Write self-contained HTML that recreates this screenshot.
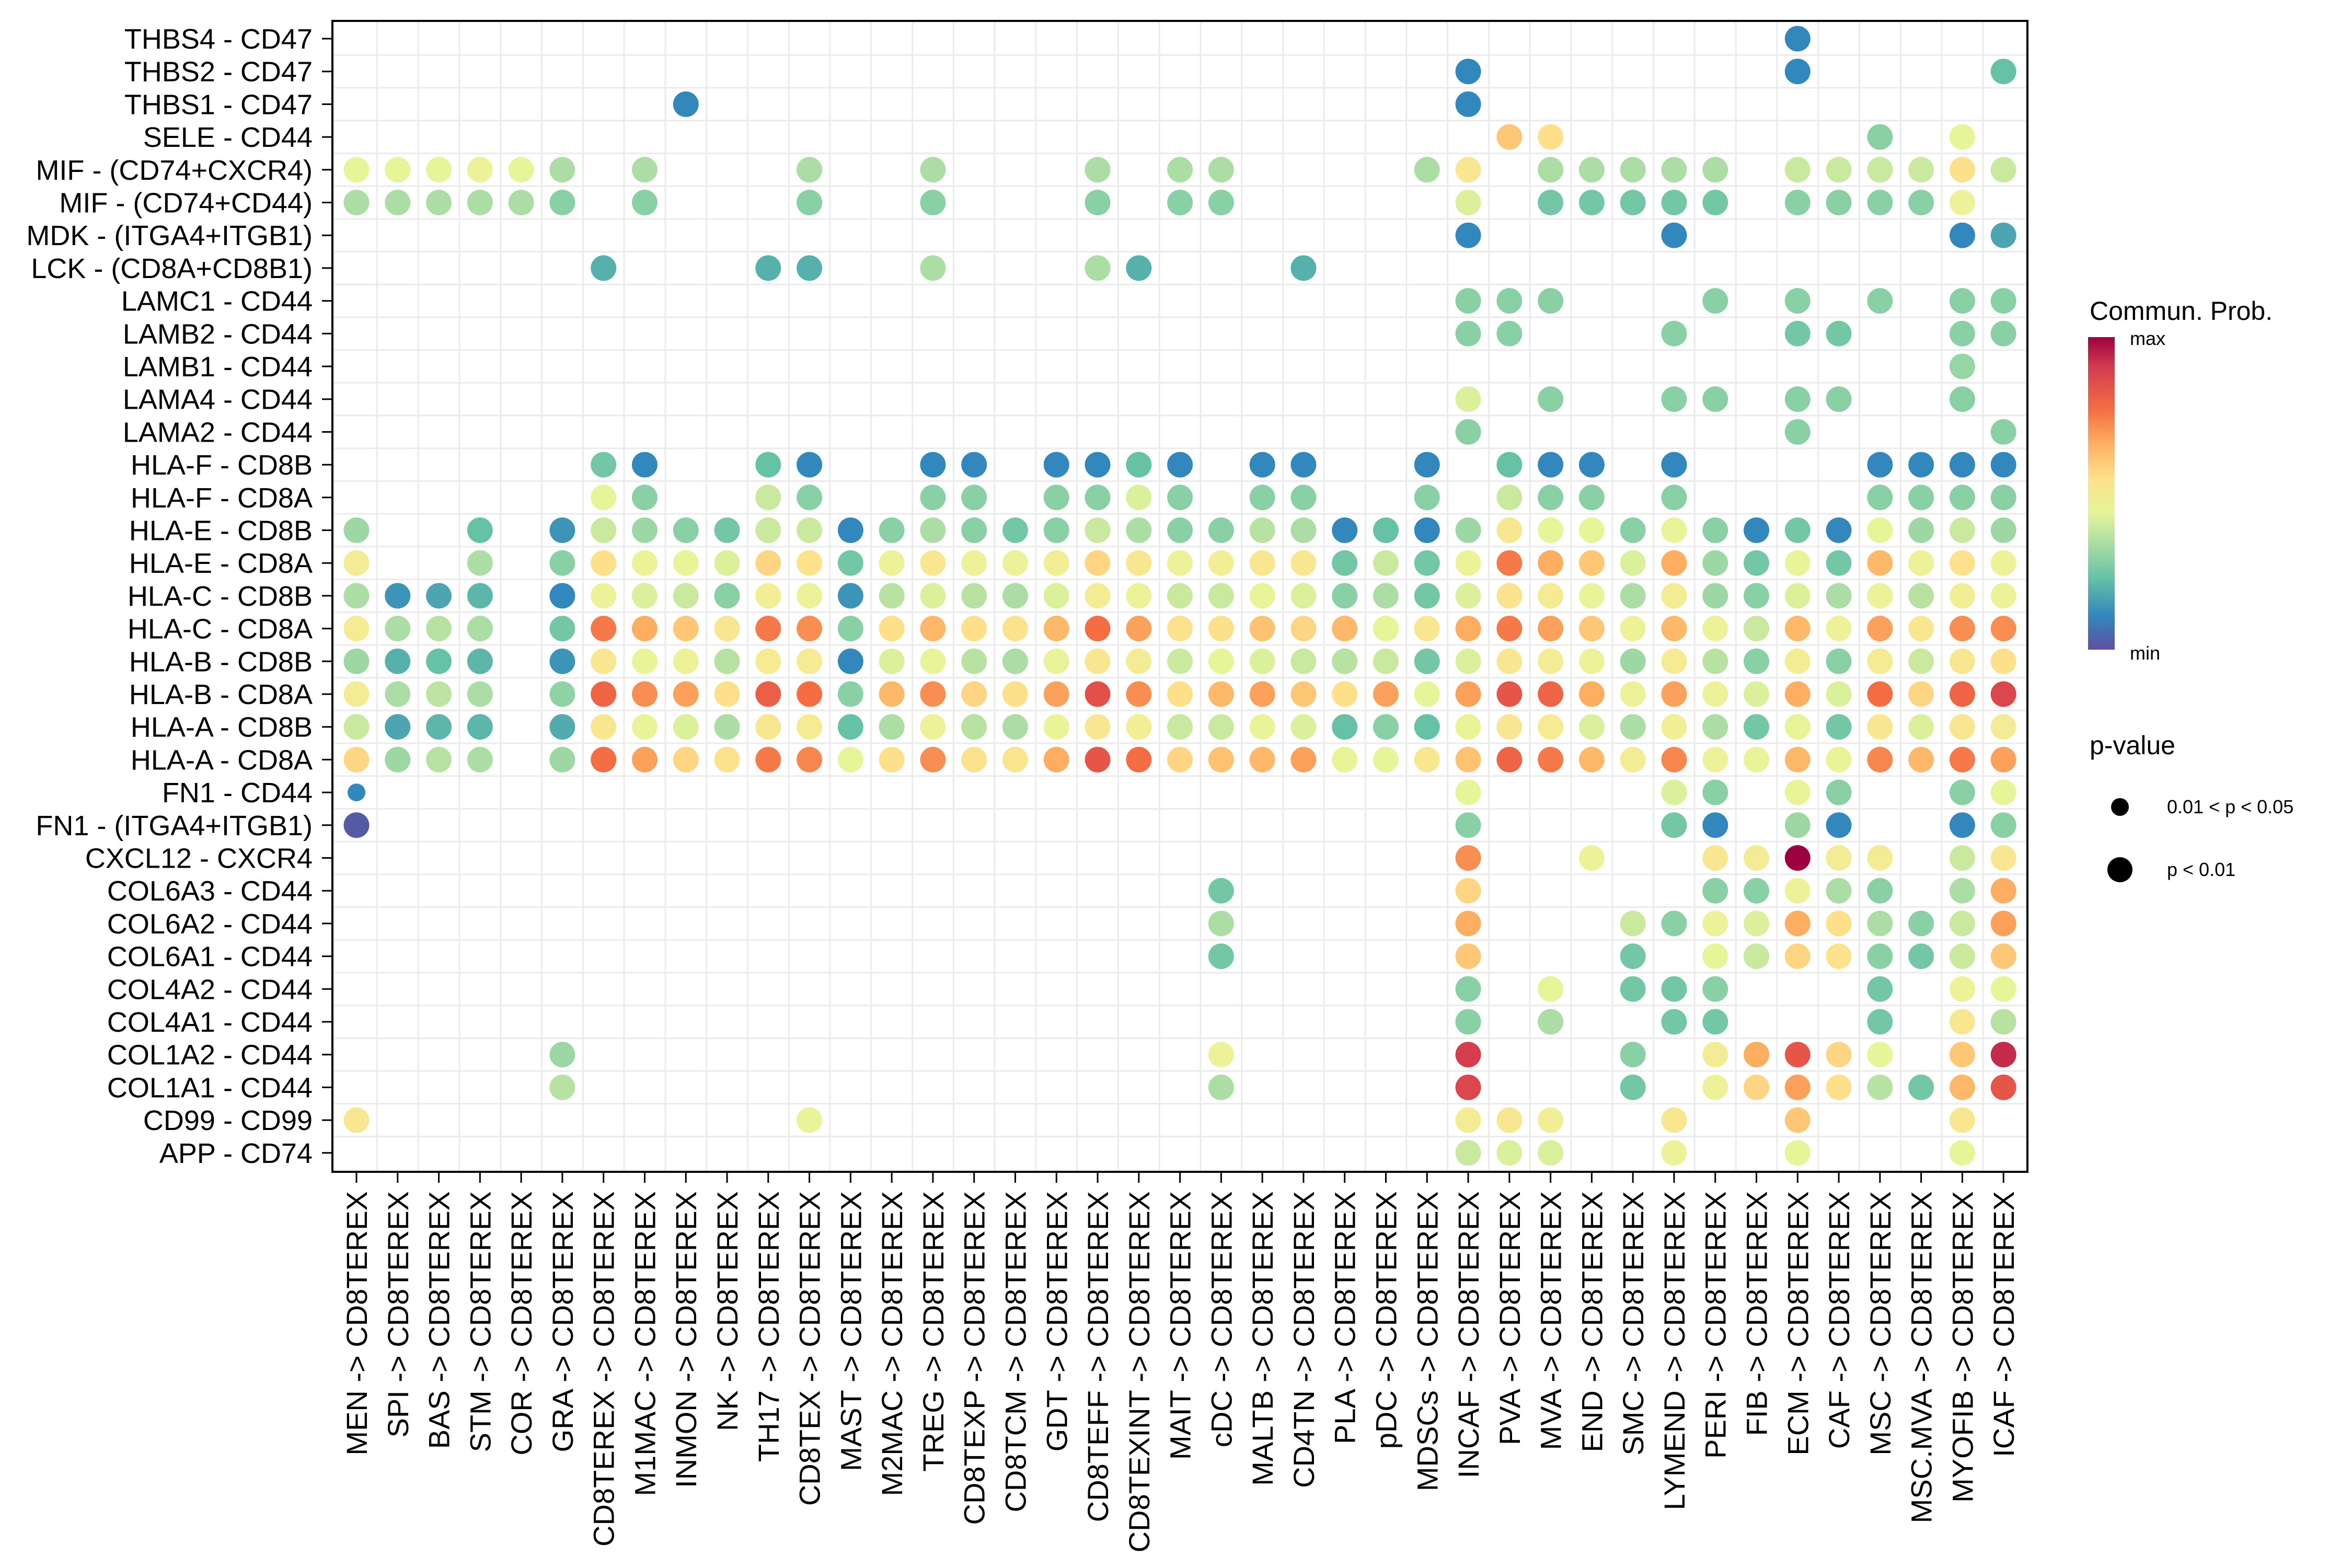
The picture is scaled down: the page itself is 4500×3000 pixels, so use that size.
<!DOCTYPE html>
<html><head><meta charset="utf-8"><style>
html,body{margin:0;padding:0;background:#fff;}
svg{display:block;font-family:"Liberation Sans",Arial,sans-serif;}
</style></head><body>
<svg id="chart" width="4500" height="3000" viewBox="0 0 4500 3000" xmlns="http://www.w3.org/2000/svg">
<defs>
<linearGradient id="spec" x1="0" y1="1" x2="0" y2="0">
<stop offset="0" stop-color="#5E4FA2"/><stop offset="0.11" stop-color="#3288BD"/><stop offset="0.23" stop-color="#66C2A5"/><stop offset="0.34" stop-color="#ABDDA4"/><stop offset="0.44" stop-color="#E6F598"/><stop offset="0.55" stop-color="#FEE08B"/><stop offset="0.66" stop-color="#FDAE61"/><stop offset="0.77" stop-color="#F46D43"/><stop offset="0.9" stop-color="#D53E4F"/><stop offset="1" stop-color="#9E0142"/>
</linearGradient>
</defs>
<g id="grid"></g>
<g id="dots"></g>
<g id="axes"></g>
<g id="legend">
<text x="3998" y="612" font-size="50">Commun. Prob.</text>
<rect x="3995" y="645" width="51" height="598" fill="url(#spec)"/>
<text x="4075" y="660" font-size="36">max</text>
<text x="4075" y="1262" font-size="36">min</text>
<text x="3998" y="1443" font-size="50">p-value</text>
<circle cx="4056" cy="1544" r="17" fill="#000"/>
<text x="4146" y="1556" font-size="36">0.01 &lt; p &lt; 0.05</text>
<circle cx="4056" cy="1664" r="24" fill="#000"/>
<text x="4146" y="1676" font-size="36">p &lt; 0.01</text>
</g>
</svg>
<script>
const rowLabels = ["THBS4 - CD47","THBS2 - CD47","THBS1 - CD47","SELE - CD44","MIF - (CD74+CXCR4)","MIF - (CD74+CD44)","MDK - (ITGA4+ITGB1)","LCK - (CD8A+CD8B1)","LAMC1 - CD44","LAMB2 - CD44","LAMB1 - CD44","LAMA4 - CD44","LAMA2 - CD44","HLA-F - CD8B","HLA-F - CD8A","HLA-E - CD8B","HLA-E - CD8A","HLA-C - CD8B","HLA-C - CD8A","HLA-B - CD8B","HLA-B - CD8A","HLA-A - CD8B","HLA-A - CD8A","FN1 - CD44","FN1 - (ITGA4+ITGB1)","CXCL12 - CXCR4","COL6A3 - CD44","COL6A2 - CD44","COL6A1 - CD44","COL4A2 - CD44","COL4A1 - CD44","COL1A2 - CD44","COL1A1 - CD44","CD99 - CD99","APP - CD74"];
const sources = ["MEN","SPI","BAS","STM","COR","GRA","CD8TEREX","M1MAC","INMON","NK","TH17","CD8TEX","MAST","M2MAC","TREG","CD8TEXP","CD8TCM","GDT","CD8TEFF","CD8TEXINT","MAIT","cDC","MALTB","CD4TN","PLA","pDC","MDSCs","INCAF","PVA","MVA","END","SMC","LYMEND","PERI","FIB","ECM","CAF","MSC","MSC.MVA","MYOFIB","ICAF"];
const target = "CD8TEREX";
// values per row: "SOURCE value" pairs (0=min, 1=max)
const rowValues = [
"ECM .1",
"INCAF .1 ECM .1 ICAF .2",
"INMON .1 INCAF .1",
"PVA .65 MVA .6 MSC .25 MYOFIB .4",
"MEN .4 SPI .4 BAS .4 STM .45 COR .4 GRA .3 M1MAC .3 CD8TEX .3 TREG .3 CD8TEFF .3 MAIT .3 cDC .3 MDSCs .3 INCAF .55 MVA .3 END .3 SMC .3 LYMEND .3 PERI .3 ECM .35 CAF .35 MSC .35 MSC.MVA .35 MYOFIB .6 ICAF .35",
"MEN .3 SPI .3 BAS .3 STM .3 COR .3 GRA .25 M1MAC .25 CD8TEX .25 TREG .25 CD8TEFF .25 MAIT .25 cDC .25 INCAF .38 MVA .22 END .22 SMC .22 LYMEND .22 PERI .22 ECM .25 CAF .25 MSC .25 MSC.MVA .25 MYOFIB .45",
"INCAF .1 LYMEND .1 MYOFIB .1 ICAF .15",
"CD8TEREX .17 TH17 .17 CD8TEX .17 TREG .3 CD8TEFF .3 CD8TEXINT .17 CD4TN .17",
"INCAF .25 PVA .25 MVA .25 PERI .25 ECM .25 MSC .25 MYOFIB .25 ICAF .25",
"INCAF .25 PVA .25 LYMEND .25 ECM .22 CAF .22 MYOFIB .25 ICAF .25",
"MYOFIB .27",
"INCAF .38 MVA .25 LYMEND .25 PERI .25 ECM .25 CAF .25 MYOFIB .25",
"INCAF .25 ECM .25 ICAF .25",
"CD8TEREX .22 M1MAC .1 TH17 .2 CD8TEX .1 TREG .1 CD8TEXP .1 GDT .1 CD8TEFF .1 CD8TEXINT .2 MAIT .1 MALTB .1 CD4TN .1 MDSCs .1 PVA .2 MVA .1 END .1 LYMEND .1 MSC .1 MSC.MVA .1 MYOFIB .1 ICAF .1",
"CD8TEREX .4 M1MAC .25 TH17 .35 CD8TEX .25 TREG .25 CD8TEXP .25 GDT .25 CD8TEFF .25 CD8TEXINT .38 MAIT .25 MALTB .25 CD4TN .25 MDSCs .25 PVA .35 MVA .25 END .25 LYMEND .25 MSC .25 MSC.MVA .25 MYOFIB .25 ICAF .25",
"MEN .28 STM .2 GRA .12 CD8TEREX .35 M1MAC .28 INMON .25 NK .22 TH17 .35 CD8TEX .35 MAST .1 M2MAC .25 TREG .3 CD8TEXP .25 CD8TCM .22 GDT .25 CD8TEFF .35 CD8TEXINT .3 MAIT .25 cDC .25 MALTB .32 CD4TN .3 PLA .1 pDC .2 MDSCs .1 INCAF .28 PVA .55 MVA .4 END .4 SMC .25 LYMEND .42 PERI .25 FIB .1 ECM .22 CAF .1 MSC .4 MSC.MVA .28 MYOFIB .35 ICAF .28",
"MEN .5 STM .3 GRA .25 CD8TEREX .6 M1MAC .45 INMON .42 NK .38 TH17 .62 CD8TEX .58 MAST .22 M2MAC .45 TREG .55 CD8TEXP .45 CD8TCM .45 GDT .48 CD8TEFF .62 CD8TEXINT .55 MAIT .45 cDC .48 MALTB .55 CD4TN .55 PLA .22 pDC .35 MDSCs .22 INCAF .45 PVA .78 MVA .7 END .65 SMC .38 LYMEND .7 PERI .28 FIB .22 ECM .42 CAF .22 MSC .68 MSC.MVA .45 MYOFIB .58 ICAF .45",
"MEN .3 SPI .12 BAS .15 STM .18 GRA .1 CD8TEREX .45 M1MAC .38 INMON .35 NK .25 TH17 .48 CD8TEX .45 MAST .12 M2MAC .32 TREG .38 CD8TEXP .32 CD8TCM .3 GDT .38 CD8TEFF .5 CD8TEXINT .45 MAIT .35 cDC .35 MALTB .42 CD4TN .38 PLA .25 pDC .3 MDSCs .22 INCAF .38 PVA .58 MVA .52 END .42 SMC .3 LYMEND .5 PERI .28 FIB .25 ECM .38 CAF .3 MSC .45 MSC.MVA .32 MYOFIB .48 ICAF .45",
"MEN .52 SPI .3 BAS .32 STM .3 GRA .22 CD8TEREX .78 M1MAC .7 INMON .65 NK .55 TH17 .78 CD8TEX .75 MAST .25 M2MAC .6 TREG .68 CD8TEXP .6 CD8TCM .58 GDT .68 CD8TEFF .8 CD8TEXINT .72 MAIT .58 cDC .6 MALTB .66 CD4TN .62 PLA .68 pDC .4 MDSCs .55 INCAF .7 PVA .78 MVA .72 END .65 SMC .45 LYMEND .68 PERI .45 FIB .35 ECM .68 CAF .45 MSC .72 MSC.MVA .55 MYOFIB .75 ICAF .75",
"MEN .28 SPI .17 BAS .2 STM .18 GRA .12 CD8TEREX .55 M1MAC .42 INMON .45 NK .32 TH17 .52 CD8TEX .52 MAST .1 M2MAC .38 TREG .42 CD8TEXP .32 CD8TCM .3 GDT .42 CD8TEFF .55 CD8TEXINT .5 MAIT .35 cDC .4 MALTB .38 CD4TN .35 PLA .32 pDC .35 MDSCs .22 INCAF .38 PVA .55 MVA .5 END .45 SMC .28 LYMEND .52 PERI .32 FIB .25 ECM .5 CAF .25 MSC .52 MSC.MVA .35 MYOFIB .55 ICAF .6",
"MEN .5 SPI .3 BAS .33 STM .3 GRA .26 CD8TEREX .82 M1MAC .75 INMON .72 NK .6 TH17 .83 CD8TEX .8 MAST .25 M2MAC .68 TREG .75 CD8TEXP .62 CD8TCM .6 GDT .72 CD8TEFF .86 CD8TEXINT .75 MAIT .6 cDC .68 MALTB .72 CD4TN .65 PLA .6 pDC .72 MDSCs .4 INCAF .72 PVA .85 MVA .82 END .7 SMC .45 LYMEND .72 PERI .45 FIB .38 ECM .7 CAF .38 MSC .8 MSC.MVA .62 MYOFIB .82 ICAF .88",
"MEN .35 SPI .15 BAS .18 STM .18 GRA .16 CD8TEREX .55 M1MAC .42 INMON .38 NK .3 TH17 .55 CD8TEX .52 MAST .2 M2MAC .3 TREG .45 CD8TEXP .32 CD8TCM .3 GDT .42 CD8TEFF .55 CD8TEXINT .48 MAIT .35 cDC .35 MALTB .42 CD4TN .38 PLA .2 pDC .25 MDSCs .2 INCAF .42 PVA .55 MVA .52 END .38 SMC .3 LYMEND .48 PERI .3 FIB .22 ECM .42 CAF .22 MSC .55 MSC.MVA .38 MYOFIB .55 ICAF .5",
"MEN .62 SPI .28 BAS .32 STM .3 GRA .28 CD8TEREX .8 M1MAC .72 INMON .62 NK .58 TH17 .78 CD8TEX .76 MAST .4 M2MAC .6 TREG .75 CD8TEXP .58 CD8TCM .56 GDT .7 CD8TEFF .85 CD8TEXINT .8 MAIT .62 cDC .66 MALTB .68 CD4TN .72 PLA .42 pDC .4 MDSCs .55 INCAF .66 PVA .82 MVA .78 END .68 SMC .5 LYMEND .76 PERI .45 FIB .42 ECM .68 CAF .42 MSC .76 MSC.MVA .68 MYOFIB .78 ICAF .72",
"MEN .1 INCAF .4 LYMEND .38 PERI .25 ECM .42 CAF .25 MYOFIB .25 ICAF .4",
"MEN .02 INCAF .25 LYMEND .22 PERI .1 ECM .28 CAF .1 MYOFIB .1 ICAF .25",
"INCAF .75 END .45 PERI .55 FIB .5 ECM 1.0 CAF .5 MSC .5 MYOFIB .35 ICAF .55",
"cDC .22 INCAF .62 PERI .25 FIB .25 ECM .45 CAF .3 MSC .25 MYOFIB .3 ICAF .7",
"cDC .3 INCAF .7 SMC .35 LYMEND .25 PERI .45 FIB .38 ECM .7 CAF .6 MSC .3 MSC.MVA .25 MYOFIB .35 ICAF .72",
"cDC .22 INCAF .65 SMC .22 PERI .4 FIB .35 ECM .62 CAF .58 MSC .25 MSC.MVA .22 MYOFIB .35 ICAF .65",
"INCAF .25 MVA .4 SMC .22 LYMEND .22 PERI .25 MSC .22 MYOFIB .45 ICAF .4",
"INCAF .25 MVA .3 LYMEND .22 PERI .22 MSC .22 MYOFIB .55 ICAF .32",
"GRA .28 cDC .45 INCAF .9 SMC .25 PERI .5 FIB .7 ECM .85 CAF .62 MSC .4 MYOFIB .65 ICAF .93",
"GRA .32 cDC .3 INCAF .88 SMC .22 PERI .45 FIB .62 ECM .72 CAF .6 MSC .32 MSC.MVA .22 MYOFIB .68 ICAF .85",
"MEN .55 CD8TEX .42 INCAF .5 PVA .55 MVA .48 LYMEND .55 ECM .65 MYOFIB .55",
"INCAF .35 PVA .38 MVA .38 LYMEND .45 ECM .4 MYOFIB .4"
];
// cells with 0.01 < p < 0.05 (smaller dot), all others p < 0.01
const weakPCells = ["FN1 - CD44|MEN"];

const NS = "http://www.w3.org/2000/svg";
const panelLeft = 636, panelRight = 3879, panelTop = 40, panelBottom = 2242;
const x0 = 682, xStep = 78.78, y0 = 74, yStep = 62.7;
const xPos = i => x0 + i * xStep;
const yPos = j => y0 + j * yStep;
const stops = [[0,"#5E4FA2"],[0.1,"#3288BD"],[0.2,"#66C2A5"],[0.3,"#ABDDA4"],[0.4,"#E6F598"],[0.5,"#F4EC95"],[0.6,"#FEE08B"],[0.7,"#FDAE61"],[0.8,"#F46D43"],[0.9,"#D53E4F"],[1,"#9E0142"]];
function hex(h){return [1,3,5].map(k=>parseInt(h.substr(k,2),16));}
function colorOf(v){
  v = Math.max(0, Math.min(1, v));
  for (let k=1;k<stops.length;k++){
    if (v <= stops[k][0]){
      const a=stops[k-1], b=stops[k], t=(v-a[0])/(b[0]-a[0]);
      const ca=hex(a[1]), cb=hex(b[1]);
      return "rgb("+ca.map((c,i)=>Math.round(c+(cb[i]-c)*t)).join(",")+")";
    }
  }
  return stops[stops.length-1][1];
}
function mk(tag, attrs, parent){
  const e=document.createElementNS(NS,tag);
  for (const k in attrs) e.setAttribute(k, attrs[k]);
  parent.appendChild(e); return e;
}
const gridG=document.getElementById("grid"), dotsG=document.getElementById("dots"), axesG=document.getElementById("axes");
mk("rect",{x:panelLeft,y:panelTop,width:panelRight-panelLeft,height:panelBottom-panelTop,fill:"#fff"},gridG);
for (let i=0;i<sources.length-1;i++){
  const l=mk("line",{x1:xPos(i+0.5),x2:xPos(i+0.5),y1:panelTop,y2:panelBottom,stroke:"#ebebeb","stroke-width":3},gridG);
  
  
}
for (let j=0;j<rowLabels.length-1;j++){
  const l=mk("line",{x1:panelLeft,x2:panelRight,y1:yPos(j+0.5),y2:yPos(j+0.5),stroke:"#ebebeb","stroke-width":3},gridG);
  
  
}
rowValues.forEach((s,j)=>{
  const parts=s.trim().split(/\s+/);
  for (let k=0;k<parts.length;k+=2){
    const src=parts[k], v=parseFloat(parts[k+1]);
    const i=sources.indexOf(src);
    if (i<0) continue;
    const weak=weakPCells.includes(rowLabels[j]+"|"+src);
    const c=mk("circle",{cx:xPos(i),cy:yPos(j),r:weak?17:24.5,fill:colorOf(v)},dotsG);
    
    
  }
});
const frame=mk("rect",{x:panelLeft,y:panelTop,width:panelRight-panelLeft,height:panelBottom-panelTop,fill:"none",stroke:"#000","stroke-width":4},axesG);


rowLabels.forEach((lab,j)=>{
  const y=yPos(j);
  mk("line",{x1:616,x2:panelLeft,y1:y,y2:y,stroke:"#000","stroke-width":3},axesG);
  const t=mk("text",{x:598,y:y+19,"font-size":54,"text-anchor":"end"},axesG);
  t.textContent=lab;
  
  
});
sources.forEach((src,i)=>{
  const x=xPos(i);
  mk("line",{x1:x,x2:x,y1:panelBottom,y2:2263,stroke:"#000","stroke-width":3},axesG);
  const t=mk("text",{x:0,y:0,"font-size":56,"text-anchor":"end",transform:"translate("+(x+20)+",2279) rotate(-90)"},axesG);
  t.textContent=src+" -> "+target;
  
  
});
</script>
</body></html>
